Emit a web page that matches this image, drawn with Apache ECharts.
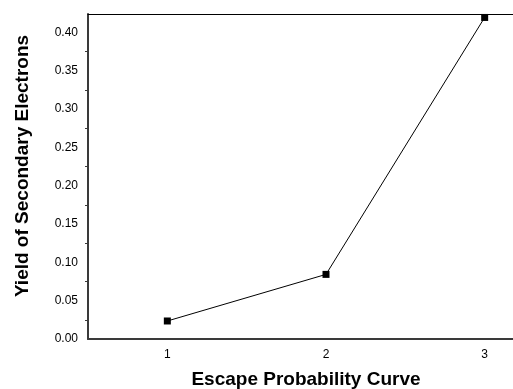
<!DOCTYPE html>
<html><head><meta charset="utf-8">
<script src="https://cdn.jsdelivr.net/npm/echarts@6/dist/echarts.min.js"></script>
<style>html,body{margin:0;padding:0;background:#fff}#c{width:513px;height:389px}</style>
</head><body><div id="c"></div>
<script>
var categories = ['1', '2', '3'];
var yieldValues = [0.0235, 0.0843, 0.4195];
var xTitle = 'Escape Probability Curve';
var yTitle = 'Yield of Secondary Electrons';

var chart = echarts.init(document.getElementById('c'), null, {renderer: 'canvas'});
var font = 'Liberation Sans, Arial, sans-serif';
chart.setOption({
  animation: false,
  backgroundColor: '#fff',
  grid: {left: 88, top: 14, right: -51, height: 325, containLabel: false, outerBoundsMode: 'none'},
  xAxis: [{
    type: 'category', data: categories, boundaryGap: true, position: 'bottom',
    axisLine: {lineStyle: {color: '#3a3a3a', width: 2}},
    axisTick: {alignWithLabel: true, length: 5, lineStyle: {color: '#3a3a3a', width: 1}},
    axisLabel: {margin: 10, color: '#000', fontFamily: font, fontSize: 12},
    splitLine: {show: false}
  }, {
    type: 'category', data: categories, boundaryGap: true, position: 'top',
    axisLine: {lineStyle: {color: '#000', width: 1}},
    axisTick: {show: false}, axisLabel: {show: false}, splitLine: {show: false}
  }],
  yAxis: {
    type: 'value', min: 0, max: 0.424, interval: 0.05,
    axisLine: {show: true, lineStyle: {color: '#3a3a3a', width: 2}},
    axisTick: {length: 5, lineStyle: {color: '#3a3a3a', width: 1}},
    minorTick: {show: true, splitNumber: 2, length: 3, lineStyle: {color: '#3a3a3a', width: 1}},
    axisLabel: {margin: 10, color: '#000', fontFamily: font, fontSize: 12, showMaxLabel: false,
      formatter: function (v) { return v.toFixed(2); }},
    splitLine: {show: false}
  },
  graphic: [{
    type: 'text',
    style: {text: xTitle, font: 'bold 19px ' + font, fill: '#000', textAlign: 'center', textVerticalAlign: 'middle'},
    x: 306, y: 380
  }, {
    type: 'text', rotation: Math.PI / 2,
    style: {text: yTitle, font: 'bold 19px ' + font, fill: '#000', textAlign: 'center', textVerticalAlign: 'middle'},
    x: 23, y: 166
  }],
  series: [{
    type: 'line', data: yieldValues, xAxisIndex: 0,
    symbol: 'rect', symbolSize: 7,
    lineStyle: {color: '#000', width: 1},
    itemStyle: {color: '#000'}
  }]
});
</script></body></html>
